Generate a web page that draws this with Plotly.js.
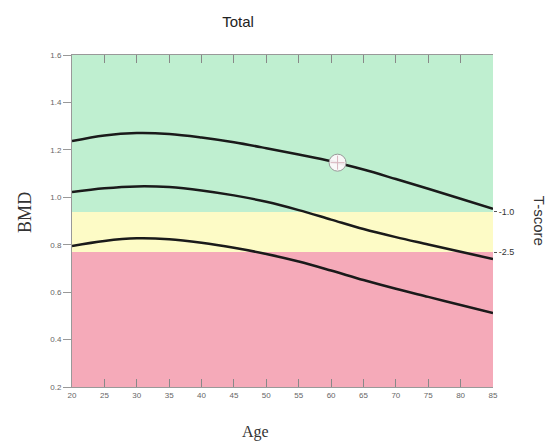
<!DOCTYPE html>
<html>
<head>
<meta charset="utf-8">
<script src="https://cdn.plot.ly/plotly-3.0.1.min.js"></script>
<style>html,body{margin:0;padding:0;background:#fff;}#chart{width:551px;height:442px;}</style>
</head>
<body>
<div id="chart"></div>
<script>
// Ages (x)
const ages = [20, 25, 30, 35, 40, 45, 50, 55, 60, 65, 70, 75, 80, 85];
// Reference curves (BMD)
const meanCurve  = [1.237, 1.261, 1.271, 1.267, 1.252, 1.232, 1.207, 1.180, 1.152, 1.117, 1.077, 1.036, 0.994, 0.951];
const midCurve   = [1.022, 1.038, 1.046, 1.043, 1.029, 1.008, 0.981, 0.946, 0.906, 0.866, 0.832, 0.801, 0.770, 0.740];
const lowCurve   = [0.795, 0.816, 0.827, 0.823, 0.808, 0.787, 0.761, 0.729, 0.691, 0.651, 0.614, 0.580, 0.546, 0.512];
// Patient point
const patientAge = [61];
const patientBMD = [1.146];
// T-score thresholds (BMD) and labels
const tThresholds = [0.938, 0.769];
const tLabels = ['-1.0', '-2.5'];
// Axis ticks and ranges
const yTicks = [0.2, 0.4, 0.6, 0.8, 1.0, 1.2, 1.4, 1.6];
const xTicks = [20, 25, 30, 35, 40, 45, 50, 55, 60, 65, 70, 75, 80, 85];
const yRange = [0.2, 1.6];
const xRange = [20, 85];

const lineStyle = {color: '#1a1a1a', width: 2.5, shape: 'spline', smoothing: 1};
const traces = [
  {x: ages, y: meanCurve, mode: 'lines', line: lineStyle, hoverinfo: 'skip'},
  {x: ages, y: midCurve, mode: 'lines', line: lineStyle, hoverinfo: 'skip'},
  {x: ages, y: lowCurve, mode: 'lines', line: lineStyle, hoverinfo: 'skip'},
  {x: patientAge, y: patientBMD, mode: 'markers',
   marker: {size: 17, color: 'rgba(252,248,250,0.95)', line: {color: '#999', width: 1}}},
  {x: patientAge, y: patientBMD, mode: 'markers',
   marker: {size: 10, symbol: 'cross-thin', color: '#d8b6be', line: {color: '#d8b6be', width: 1}}},
  {x: [xRange[0]], y: [yRange[0]], yaxis: 'y2', mode: 'markers', marker: {opacity: 0}, hoverinfo: 'skip'}
];

const shapes = [
  {type: 'rect', xref: 'x', yref: 'y', x0: xRange[0], x1: xRange[1], y0: tThresholds[0], y1: yRange[1],
   fillcolor: '#bfefd0', line: {width: 0}, layer: 'below'},
  {type: 'rect', xref: 'x', yref: 'y', x0: xRange[0], x1: xRange[1], y0: tThresholds[1], y1: tThresholds[0],
   fillcolor: '#fdfbc6', line: {width: 0}, layer: 'below'},
  {type: 'rect', xref: 'x', yref: 'y', x0: xRange[0], x1: xRange[1], y0: yRange[0], y1: tThresholds[1],
   fillcolor: '#f5aab9', line: {width: 0}, layer: 'below'}
];

const tickFont = {family: 'Liberation Sans, Arial, sans-serif', size: 8, color: '#666'};
const layout = {
  width: 551, height: 442,
  margin: {l: 72, r: 58, t: 55, b: 55},
  paper_bgcolor: '#fff', plot_bgcolor: '#fff',
  showlegend: false,
  title: {text: 'Total', x: 0.432, xanchor: 'center', y: 0.95, yanchor: 'middle',
          font: {family: 'Liberation Sans, Arial, sans-serif', size: 15, color: '#222'}},
  xaxis: {range: xRange, tickvals: xTicks, ticks: 'inside', ticklen: 8, tickcolor: '#888',
          showgrid: false, zeroline: false, showline: true, linecolor: '#999', mirror: 'ticks',
          tickfont: tickFont},
  yaxis: {range: yRange, tickvals: yTicks, tickformat: '.1f', ticks: 'outside', ticklen: 8, tickcolor: '#999',
          showgrid: false, zeroline: false, showline: true, linecolor: '#999',
          tickfont: tickFont},
  yaxis2: {range: yRange, overlaying: 'y', side: 'right', tickvals: tThresholds, ticktext: tLabels,
           ticks: 'outside', ticklen: 3, tickcolor: '#555', showgrid: false, zeroline: false, showline: false,
           tickfont: {family: 'Liberation Sans, Arial, sans-serif', size: 9, color: '#333'}},
  shapes: shapes,
  annotations: [
    {text: 'BMD', xref: 'paper', yref: 'paper', x: -0.112, y: 0.527, xanchor: 'center', yanchor: 'middle',
     showarrow: false, textangle: -90,
     font: {family: 'Liberation Serif, Times New Roman, serif', size: 18, color: '#333'}},
    {text: 'Age', xref: 'paper', yref: 'paper', x: 0.437, y: -0.136, xanchor: 'center', yanchor: 'middle',
     showarrow: false,
     font: {family: 'Liberation Serif, Times New Roman, serif', size: 16, color: '#333'}},
    {text: 'T-score', xref: 'paper', yref: 'paper', x: 1.112, y: 0.5, xanchor: 'center', yanchor: 'middle',
     showarrow: false, textangle: 90,
     font: {family: 'Liberation Sans, Arial, sans-serif', size: 15, color: '#333'}}
  ]
};

Plotly.newPlot('chart', traces, layout, {displayModeBar: false, staticPlot: true});
</script>
</body>
</html>
